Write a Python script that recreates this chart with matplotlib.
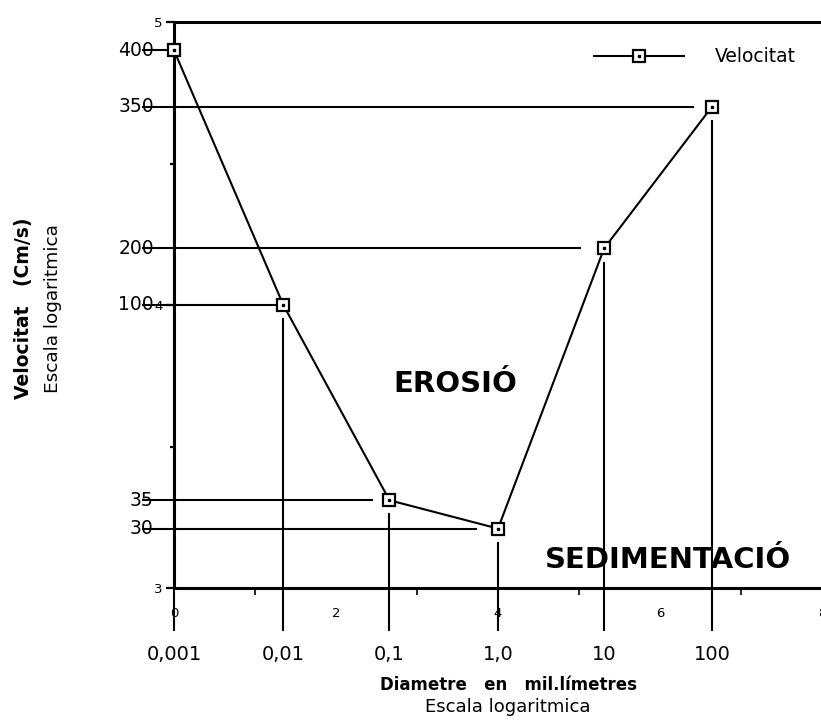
import matplotlib.pyplot as plt
from matplotlib.lines import Line2D
from matplotlib.legend_handler import HandlerTuple

# grain diameter (mm) and velocity (cm/s), labels as printed on the chart
diametre_labels = ['0,001', '0,01', '0,1', '1,0', '10', '100']
velocitat_labels = ['400', '100', '35', '30', '200', '350']

# positions on the original 0-8 / 3-5 axis grid
x_pos = [0.0, 1.35, 2.66, 4.0, 5.31, 6.64]
y_pos = [4.9, 4.0, 3.31, 3.21, 4.2, 4.7]

# how far each horizontal guide stops before its marker (data units)
h_gap = [0.0, 0.07, 0.22, 0.27, 0.3, 0.23]

fig = plt.figure(figsize=(8.21, 7.2), dpi=100)
ax = fig.add_axes([174 / 821, 1 - 588 / 720, 648 / 821, 566 / 720])
ax.set_xlim(0, 8)
ax.set_ylim(3, 5)

for sp in ax.spines.values():
    sp.set_linewidth(2.2)

ax.set_xticks([0, 2, 4, 6, 8])
ax.set_xticks([1, 3, 5, 7], minor=True)
ax.set_yticks([3, 4, 5])
ax.set_yticks([3.5, 4.5], minor=True)
ax.tick_params(axis='y', which='major', direction='out', length=6, width=1.6,
               labelsize=9.5, pad=2)
ax.tick_params(axis='y', which='minor', direction='out', length=3, width=1.6)
ax.tick_params(axis='x', which='major', direction='out', length=0,
               labelsize=9.5, pad=14)
ax.tick_params(axis='x', which='minor', direction='out', length=5, width=1.2)

# guide lines from the y axis to each point and from each point down
for x, y, g in zip(x_pos, y_pos, h_gap):
    ax.plot([-0.38, x - g], [y, y], color='black', lw=1.5, clip_on=False, zorder=2)
    ax.plot([x, x], [y - 0.05, 2.85], color='black', lw=1.5, clip_on=False, zorder=2)

# main curve with boxed-dot markers
ax.plot(x_pos, y_pos, color='black', lw=1.5, marker='s', markersize=8,
        markerfacecolor='white', markeredgecolor='black', markeredgewidth=1.6,
        zorder=4, clip_on=False)
ax.plot(x_pos, y_pos, ls='none', marker='s', markersize=1.6, color='black',
        zorder=5, clip_on=False)

# velocity labels on the left, diameter labels below
for y, lab in zip(y_pos, velocitat_labels):
    ax.text(-0.25, y, lab, ha='right', va='center', fontsize=13.5,
            clip_on=False)
for x, lab in zip(x_pos, diametre_labels):
    ax.text(x, 2.765, lab, ha='center', va='center', fontsize=14,
            clip_on=False)

ax.text(3.47, 3.72, 'EROSIÓ', ha='center', va='center', fontsize=21,
        fontweight='bold')
ax.text(6.1, 3.1, 'SEDIMENTACIÓ', ha='center', va='center', fontsize=21,
        fontweight='bold')

fig.text(508 / 821, 1 - 685 / 720, 'Diametre   en   mil.límetres',
         ha='center', va='center', fontsize=12, fontweight='bold')
fig.text(508 / 821, 1 - 707 / 720, 'Escala logaritmica',
         ha='center', va='center', fontsize=13)
fig.text(23 / 821, 1 - 308 / 720, 'Velocitat   (Cm/s)', rotation=90,
         ha='center', va='center', fontsize=13.5, fontweight='bold')
fig.text(53 / 821, 1 - 309 / 720, 'Escala logaritmica', rotation=90,
         ha='center', va='center', fontsize=13.3)

sq = Line2D([], [], color='black', lw=1.5, marker='s', markersize=8,
            markerfacecolor='white', markeredgecolor='black', markeredgewidth=1.6)
dot = Line2D([], [], ls='none', marker='s', markersize=1.6, color='black')
ax.legend([(sq, dot)], ['Velocitat'], handler_map={tuple: HandlerTuple(ndivide=1)},
          loc='upper right', bbox_to_anchor=(0.985, 0.985), frameon=False,
          fontsize=13.5, handlelength=4.8, handletextpad=1.6)

fig.savefig('out.png', dpi=100)
